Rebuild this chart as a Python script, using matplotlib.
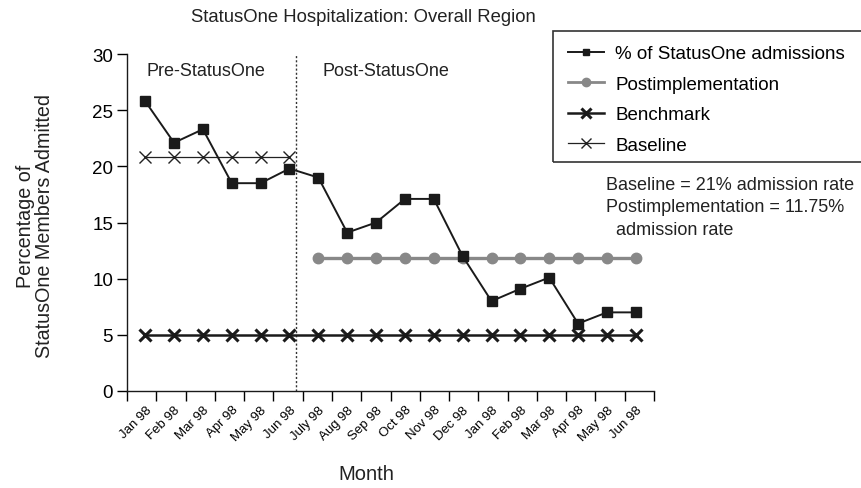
import matplotlib
matplotlib.use("Agg")
import matplotlib.pyplot as plt
from matplotlib.lines import Line2D
from matplotlib.patches import Rectangle
import numpy as np

plt.rcParams['font.family'] = ['Liberation Sans', 'DejaVu Sans']

months = ["Jan 98", "Feb 98", "Mar 98", "Apr 98", "May 98", "Jun 98",
          "July 98", "Aug 98", "Sep 98", "Oct 98", "Nov 98", "Dec 98",
          "Jan 98", "Feb 98", "Mar 98", "Apr 98", "May 98", "Jun 98"]
admissions = [25.8, 22.1, 23.3, 18.5, 18.5, 19.8,
              19.0, 14.1, 15.0, 17.1, 17.1, 12.0,
              8.0, 9.1, 10.1, 6.0, 7.0, 7.0]
post_value = 11.8
post_months = list(range(6, 18))
baseline_value = 20.8
baseline_months = list(range(0, 6))
benchmark_value = 5.0

W, H = 861, 489
fig = plt.figure(figsize=(W / 100, H / 100), dpi=100)
ax = fig.add_axes([127 / W, 1 - 392 / H, (654 - 127) / W, (392 - 55) / H])

x = np.arange(len(months))
ax.plot(baseline_months, [baseline_value] * len(baseline_months), color='#222222',
        lw=0.9, marker='x', ms=8, mew=1.0, zorder=3)
ax.plot(x, [benchmark_value] * len(x), color='#1a1a1a', lw=1.8, marker='x', ms=8,
        mew=2.2, zorder=3)
ax.plot(post_months, [post_value] * len(post_months), color='#888888', lw=2.4,
        marker='o', ms=7.5, zorder=3)
ax.plot(x, admissions, color='#1a1a1a', lw=1.4, marker='s', ms=7, zorder=4)

ax.axvline(5.22, ymin=0, ymax=1, color='#333333', lw=1.0, ls=(0, (1.5, 1.5)), zorder=2)

ax.set_xlim(-0.63, 17.63)
ax.set_ylim(0, 30)
ax.set_yticks(np.arange(0, 31, 5))
ax.tick_params(axis='y', direction='out', length=7, labelsize=13.5, pad=3, width=1)
ax.set_xticks(np.linspace(-0.63, 17.63, 19))
ax.set_xticklabels([])
ax.tick_params(axis='x', which='major', direction='out', length=7, width=1)
ax.set_xticks(x, minor=True)
ax.set_xticklabels(months, minor=True, rotation=45, ha='right', rotation_mode='anchor',
                   fontsize=9.5)
ax.tick_params(axis='x', which='minor', length=0, pad=9)
for s in ['top', 'right']:
    ax.spines[s].set_visible(False)
for s in ['left', 'bottom']:
    ax.spines[s].set_linewidth(1.0)
    ax.spines[s].set_color('#1a1a1a')

ax.text(0.03, 28.5, "Pre-StatusOne", fontsize=13, va='center', ha='left', color='#222222')
ax.text(6.15, 28.5, "Post-StatusOne", fontsize=13, va='center', ha='left', color='#222222')

fig.text(363 / W, 1 - 17 / H, "StatusOne Hospitalization: Overall Region", ha='center',
         va='center', fontsize=13.3, color='#222222')
fig.text(366 / W, 1 - 475 / H, "Month", ha='center', va='center', fontsize=14.5,
         color='#222222')
fig.text(35 / W, 1 - 226 / H, "Percentage of\nStatusOne Members Admitted", ha='center',
         va='center', rotation=90, fontsize=14.2, color='#222222', linespacing=0.98)

fig.text(606 / W, 1 - 177 / H,
         "Baseline = 21% admission rate\nPostimplementation = 11.75%\n  admission rate",
         ha='left', va='top', fontsize=13, color='#222222', linespacing=1.42)

handles = [
    Line2D([], [], color='#1a1a1a', lw=1.4, marker='s', ms=4.5),
    Line2D([], [], color='#888888', lw=2.0, marker='o', ms=6),
    Line2D([], [], color='#1a1a1a', lw=1.8, marker='x', ms=7, mew=2.2),
    Line2D([], [], color='#222222', lw=0.9, marker='x', ms=7, mew=1.0),
]
labels = ["% of StatusOne admissions", "Postimplementation", "Benchmark", "Baseline"]
leg = fig.legend(handles, labels, loc='upper left', bbox_to_anchor=(568 / W, 1 - 46 / H),
                 frameon=False, fontsize=13.5, handlelength=1.9, handletextpad=0.62,
                 labelspacing=0.72, borderaxespad=0, borderpad=0)
fig.add_artist(Rectangle((553 / W, 1 - 163 / H), (900 - 553) / W, (163 - 32) / H,
                         transform=fig.transFigure, fill=False, edgecolor='#333333',
                         lw=1.2, clip_on=False))

fig.savefig("out.png", dpi=100)
